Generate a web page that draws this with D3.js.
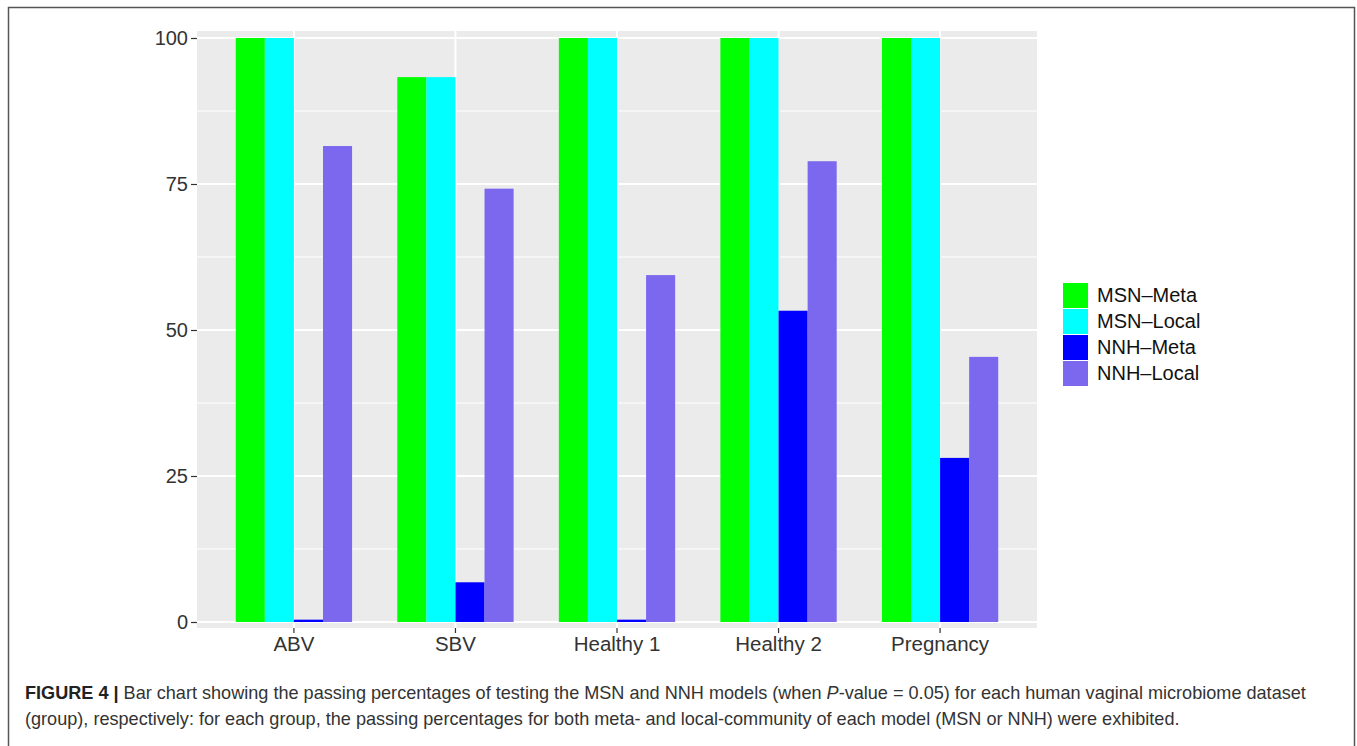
<!DOCTYPE html>
<html><head><meta charset="utf-8">
<script src="https://cdn.jsdelivr.net/npm/d3@7"></script>
<style>body{margin:0;background:#fff;} svg{display:block;}</style>
</head><body>
<svg id="c" width="1357" height="746"></svg>
<script>
const categories = ["ABV", "SBV", "Healthy 1", "Healthy 2", "Pregnancy"];
const seriesNames = ["MSN\u2013Meta", "MSN\u2013Local", "NNH\u2013Meta", "NNH\u2013Local"];
const msnMeta  = [100, 93.3, 100, 100, 100];
const msnLocal = [100, 93.3, 100, 100, 100];
const nnhMeta  = [0.4, 6.8, 0.4, 53.3, 28.1];
const nnhLocal = [81.5, 74.2, 59.4, 78.9, 45.4];
const yTicks = [0, 25, 50, 75, 100];
const yMinor = [12.5, 37.5, 62.5, 87.5];
const colors = ["#00FF00", "#00FFFF", "#0000FF", "#7B68EE"];
const seriesValues = [msnMeta, msnLocal, nnhMeta, nnhLocal];

const svg = d3.select("#c");
const font = "'Liberation Sans', Arial, Helvetica, sans-serif";

// figure frame
svg.append("path").attr("d","M8.5,746 V7.5 H1354.5 V746").attr("fill","none").attr("stroke","#555").attr("stroke-width",1.5);

const P = {l:197, r:1037, t:31, b:628};
const unit = (P.r - P.l) / 5.2;
const xPos = d3.scaleLinear().domain([-0.6, 4.6]).range([P.l, P.r]);
const cx = i => xPos(i);
const y0 = 622, y100 = 38;
const yS = d3.scaleLinear().domain([0,100]).range([y0, y100]);

svg.append("rect").attr("x",P.l).attr("y",P.t).attr("width",P.r-P.l).attr("height",P.b-P.t).attr("fill","#EBEBEB");
const g = svg.append("g");
yMinor.forEach(v => g.append("line").attr("x1",P.l).attr("x2",P.r).attr("y1",yS(v)).attr("y2",yS(v)).attr("stroke","#fff").attr("stroke-width",1));
yTicks.forEach(v => g.append("line").attr("x1",P.l).attr("x2",P.r).attr("y1",yS(v)).attr("y2",yS(v)).attr("stroke","#fff").attr("stroke-width",2));
categories.forEach((c,i) => g.append("line").attr("x1",cx(i)).attr("x2",cx(i)).attr("y1",P.t).attr("y2",P.b).attr("stroke","#fff").attr("stroke-width",2));

// bars
const groupW = 0.72*unit;
const sub = d3.scaleBand().domain(d3.range(4)).range([-groupW/2, groupW/2]).padding(0);
seriesValues.forEach((vals, s) => {
  svg.append("g").selectAll("rect").data(vals).join("rect")
    .attr("x",(d,i)=>cx(i)+sub(s)).attr("width",sub.bandwidth())
    .attr("y",d=>yS(d)).attr("height",d=>y0-yS(d)).attr("fill",colors[s]);
});

// y axis
const yAxis = d3.axisLeft(yS).tickValues(yTicks).tickSize(6).tickPadding(3);
const ya = svg.append("g").attr("transform",`translate(${P.l},0)`).call(yAxis);
ya.select(".domain").remove();
ya.selectAll("line").attr("stroke","#333").attr("stroke-width",1.2);
ya.selectAll("text").attr("font-family",font).attr("font-size",20).attr("fill","#333");

// x axis
const xa = svg.append("g").attr("transform",`translate(0,${P.b})`);
categories.forEach((c,i)=>{
  xa.append("line").attr("x1",cx(i)).attr("x2",cx(i)).attr("y1",0).attr("y2",5).attr("stroke","#333").attr("stroke-width",1.2);
  xa.append("text").attr("x",cx(i)).attr("y",23).attr("text-anchor","middle").attr("font-family",font).attr("font-size",20.5).attr("fill","#333").text(c);
});

// legend
const lg = svg.append("g").attr("transform","translate(1063,283)");
seriesNames.forEach((n,i)=>{
  lg.append("rect").attr("x",0).attr("y",i*26).attr("width",25).attr("height",25).attr("fill",colors[i]);
  lg.append("text").attr("x",34).attr("y",i*26+19).attr("font-family",font).attr("font-size",20).attr("fill","#111").text(n);
});

// caption
const cap = svg.append("g").attr("font-family",font).attr("font-size",18.1).attr("fill","#333");
const t1 = cap.append("text").attr("x",25).attr("y",699);
t1.append("tspan").attr("font-weight","bold").attr("fill","#222").text("FIGURE 4 | ");
t1.append("tspan").text("Bar chart showing the passing percentages of testing the MSN and NNH models (when ");
t1.append("tspan").attr("font-style","italic").text("P");
t1.append("tspan").text("-value = 0.05) for each human vaginal microbiome dataset");
cap.append("text").attr("x",25).attr("y",725).text("(group), respectively: for each group, the passing percentages for both meta- and local-community of each model (MSN or NNH) were exhibited.");
</script>
</body></html>
